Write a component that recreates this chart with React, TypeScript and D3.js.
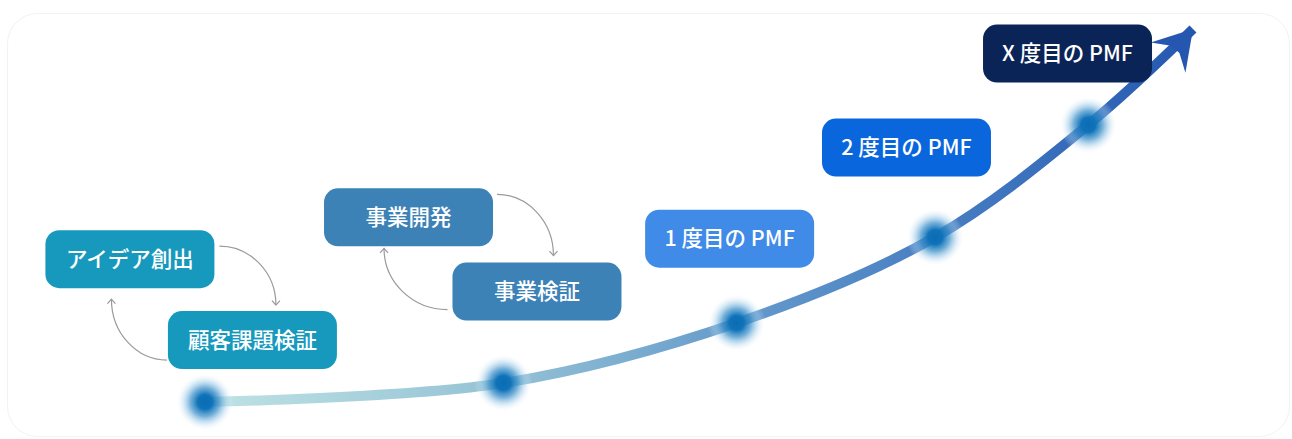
import * as d3 from 'd3';

const width = 1292;
const height = 439;

// growth curve: time (0..10) vs growth (0..100)
const curveTime = [0, 3.02, 5.38, 7.39, 8.94, 10];
const curveGrowth = [0, 5.1, 21.2, 44.2, 74.3, 100];
// glowing milestones sit on the first five points
const milestoneCount = 5;

const boxLabels = ['アイデア創出', '顧客課題検証', '事業開発', '事業検証', '1 度目の PMF', '2 度目の PMF', 'X 度目の PMF'];
const boxTime = [-0.76, 0.48, 2.06, 3.36, 5.31, 7.1, 8.73];
const boxGrowth = [38.3, 16.6, 49.5, 29.6, 43.8, 68.2, 93.4];
const boxColors = ['#1799bd', '#1799bd', '#3d82b6', '#3d82b6', '#408ae8', '#0a66dd', '#0b2458'];

const margin = { left: 205, right: 99, top: 29, bottom: 37 };
const boxW = 169;
const boxH = 58;

const x = d3.scaleLinear().domain([0, 10]).range([margin.left, width - margin.right]);
const y = d3.scaleLinear().domain([0, 100]).range([height - margin.bottom, margin.top]);

// loop arrows between box pairs: [from, to, start offset, end offset]
type Loop = { from: number; to: number; sx: number; sy: number; ex: number; ey: number };
const loops: Loop[] = [
  { from: 0, to: 1, sx: 5, sy: 16, ex: 108, ey: -6 },
  { from: 1, to: 0, sx: -1, sy: -9, ex: 66, ey: 11 },
  { from: 2, to: 3, sx: 4, sy: 6, ex: 101, ey: -7 },
  { from: 3, to: 2, sx: -5, sy: -11, ex: 60, ey: 2 },
];

function boxRect(i: number) {
  const cx = x(boxTime[i]);
  const cy = y(boxGrowth[i]);
  return { x0: cx - boxW / 2, y0: cy - boxH / 2, x1: cx + boxW / 2, y1: cy + boxH / 2, cx, cy };
}

function loopPath(l: Loop) {
  const a = boxRect(l.from);
  const b = boxRect(l.to);
  let sx: number, sy: number, ex: number, ey: number;
  if (l.to > l.from) {
    sx = a.x1 + l.sx;
    sy = a.y0 + l.sy;
    ex = b.x0 + l.ex;
    ey = b.y0 + l.ey;
  } else {
    sx = a.x0 + l.sx;
    sy = a.y1 + l.sy;
    ex = b.x0 + l.ex;
    ey = b.y1 + l.ey;
  }
  const p = d3.path();
  p.moveTo(sx, sy);
  p.bezierCurveTo(sx + 0.55 * (ex - sx), sy, ex, sy + 0.45 * (ey - sy), ex, ey);
  return p.toString();
}

export default function App() {
  const pts: [number, number][] = curveTime.map((t, i) => [x(t), y(curveGrowth[i])]);
  const line = d3.line().curve(d3.curveCatmullRom.alpha(0.5));
  const curveD = line(pts) || '';

  return (
    <svg width={width} height={height} style={{ position: 'absolute', left: 0, top: 0, fontFamily: '"Noto Sans CJK JP", "Noto Sans", sans-serif' }}>
      <defs>
        <linearGradient id="curveGrad" gradientUnits="userSpaceOnUse" x1={x(0)} y1={0} x2={x(10)} y2={0}>
          <stop offset="0" stopColor="#bfe3e4" />
          <stop offset="0.3" stopColor="#94c2d5" />
          <stop offset="0.55" stopColor="#6399cb" />
          <stop offset="0.8" stopColor="#3f76bf" />
          <stop offset="1" stopColor="#2458b0" />
        </linearGradient>
        <radialGradient id="glow">
          <stop offset="0" stopColor="#0a6cb4" stopOpacity="1" />
          <stop offset="0.25" stopColor="#1072b8" stopOpacity="1" />
          <stop offset="0.5" stopColor="#3a8fc9" stopOpacity="0.7" />
          <stop offset="0.75" stopColor="#a6cfea" stopOpacity="0.4" />
          <stop offset="1" stopColor="#ffffff" stopOpacity="0" />
        </radialGradient>
        <marker id="bigHead" markerUnits="userSpaceOnUse" viewBox="-45 -28 50 56" refX={0} refY={0} markerWidth={50} markerHeight={56} orient="-49">
          <path d="M0,0 L-38,-23 L-27,-5.5 L-27,5.5 L-38,23 Z" fill="#2657b0" />
        </marker>
        <marker id="smallHead" markerUnits="userSpaceOnUse" viewBox="0 0 10 10" refX={5} refY={5} markerWidth={10} markerHeight={10} orient="auto">
          <path d="M0.5,1 L5,5 L0.5,9" fill="none" stroke="#9a9a9a" strokeWidth={1.2} />
        </marker>
      </defs>

      <rect x={7.5} y={13.5} width={1282} height={423} rx={30} fill="none" stroke="#f2f2f2" />

      <path d={curveD} fill="none" stroke="url(#curveGrad)" strokeWidth={10} markerEnd="url(#bigHead)" />

      {pts.slice(0, milestoneCount).map((p, i) => (
        <circle key={i} cx={p[0]} cy={p[1]} r={29} fill="url(#glow)" />
      ))}

      {loops.map((l, i) => (
        <path key={i} d={loopPath(l)} fill="none" stroke="#9a9a9a" strokeWidth={1.2} markerEnd="url(#smallHead)" />
      ))}

      {boxLabels.map((label, i) => {
        const r = boxRect(i);
        return (
          <g key={label}>
            <rect x={r.x0} y={r.y0} width={boxW} height={boxH} rx={14} fill={boxColors[i]} />
            <text x={r.cx} y={r.cy} dy="0.35em" textAnchor="middle" fill="#ffffff" fontSize={21.5} fontWeight={500}>
              {label}
            </text>
          </g>
        );
      })}
    </svg>
  );
}
